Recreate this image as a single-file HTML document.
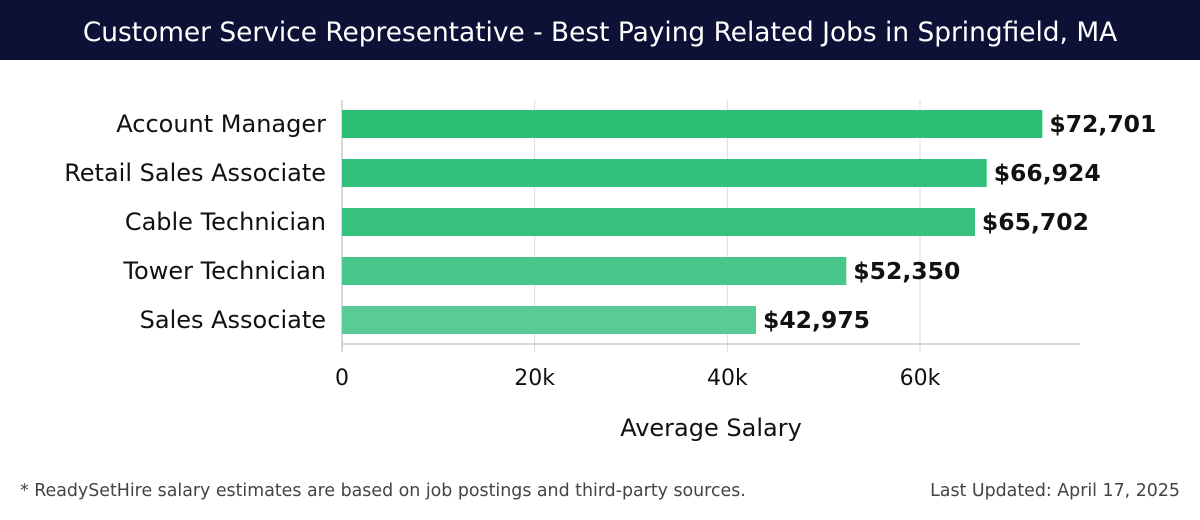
<!DOCTYPE html>
<html><head><meta charset="utf-8"><style>
body{margin:0;width:1200px;height:520px;background:#fff;font-family:"DejaVu Sans","Liberation Sans",sans-serif;overflow:hidden}
#hdr{position:absolute;left:0;top:0;width:1200px;height:60px;background:#0d1136;color:#fff;font-size:26.4px;text-align:center;line-height:66px}
.foot{position:absolute;top:481px;font-size:17.4px;color:#444}
svg text{font-family:"DejaVu Sans","Liberation Sans",sans-serif}
</style></head><body>
<div id="hdr">Customer Service Representative - Best Paying Related Jobs in Springfield, MA</div>
<svg id="chart" width="1200" height="470" style="position:absolute;left:0;top:0"></svg>
<div class="foot" style="left:20px">* ReadySetHire salary estimates are based on job postings and third-party sources.</div>
<div class="foot" style="right:20px">Last Updated: April 17, 2025</div>
<script>
const categories=["Account Manager","Retail Sales Associate","Cable Technician","Tower Technician","Sales Associate"];
const values=[72701,66924,65702,52350,42975];
const ticks=[0,20000,40000,60000];
const tickLabels=["0","20k","40k","60k"];
const colors=["#2bbf76","#33c07c","#36c17e","#49c78b","#58cb96"];
const svg=document.getElementById('chart');
const NS="http://www.w3.org/2000/svg";
const x0=342,kx=(920-342)/60000,top0=110,step=49,bh=28;
const xs=v=>x0+v*kx;
function el(t,a,p){const e=document.createElementNS(NS,t);for(const k in a)e.setAttribute(k,a[k]);(p||svg).appendChild(e);return e;}
ticks.forEach((t,i)=>{
 const g=el('line',{x1:xs(t),x2:xs(t),y1:100,y2:352,stroke:'#ddd','stroke-width':1});
 
 
 const l=el('text',{x:xs(t),y:385,'text-anchor':'middle','font-size':22,fill:'#111'});
 l.textContent=tickLabels[i];
 
 
});
const ax=el('line',{x1:342,x2:1080,y1:344,y2:344,stroke:'#ccc','stroke-width':1.5});


const yl=el('line',{x1:342,x2:342,y1:100,y2:352,stroke:'#ccc','stroke-width':1.5});


categories.forEach((c,i)=>{
 const y=top0+i*step;
 const r=el('rect',{x:x0,y:y,width:xs(values[i])-x0,height:bh,fill:colors[i]});
 
 
 const t=el('text',{x:326,y:y+bh/2+8,'text-anchor':'end','font-size':24,fill:'#111'});
 t.textContent=c;
 
 
 const v=el('text',{x:xs(values[i])+7,y:y+bh/2+8,'font-size':23.5,'font-weight':'bold',fill:'#111'});
 v.textContent='$'+values[i].toLocaleString('en-US');
 
 
});
const at=el('text',{x:711,y:436,'text-anchor':'middle','font-size':24,fill:'#111'});
at.textContent='Average Salary';


</script>
</body></html>
